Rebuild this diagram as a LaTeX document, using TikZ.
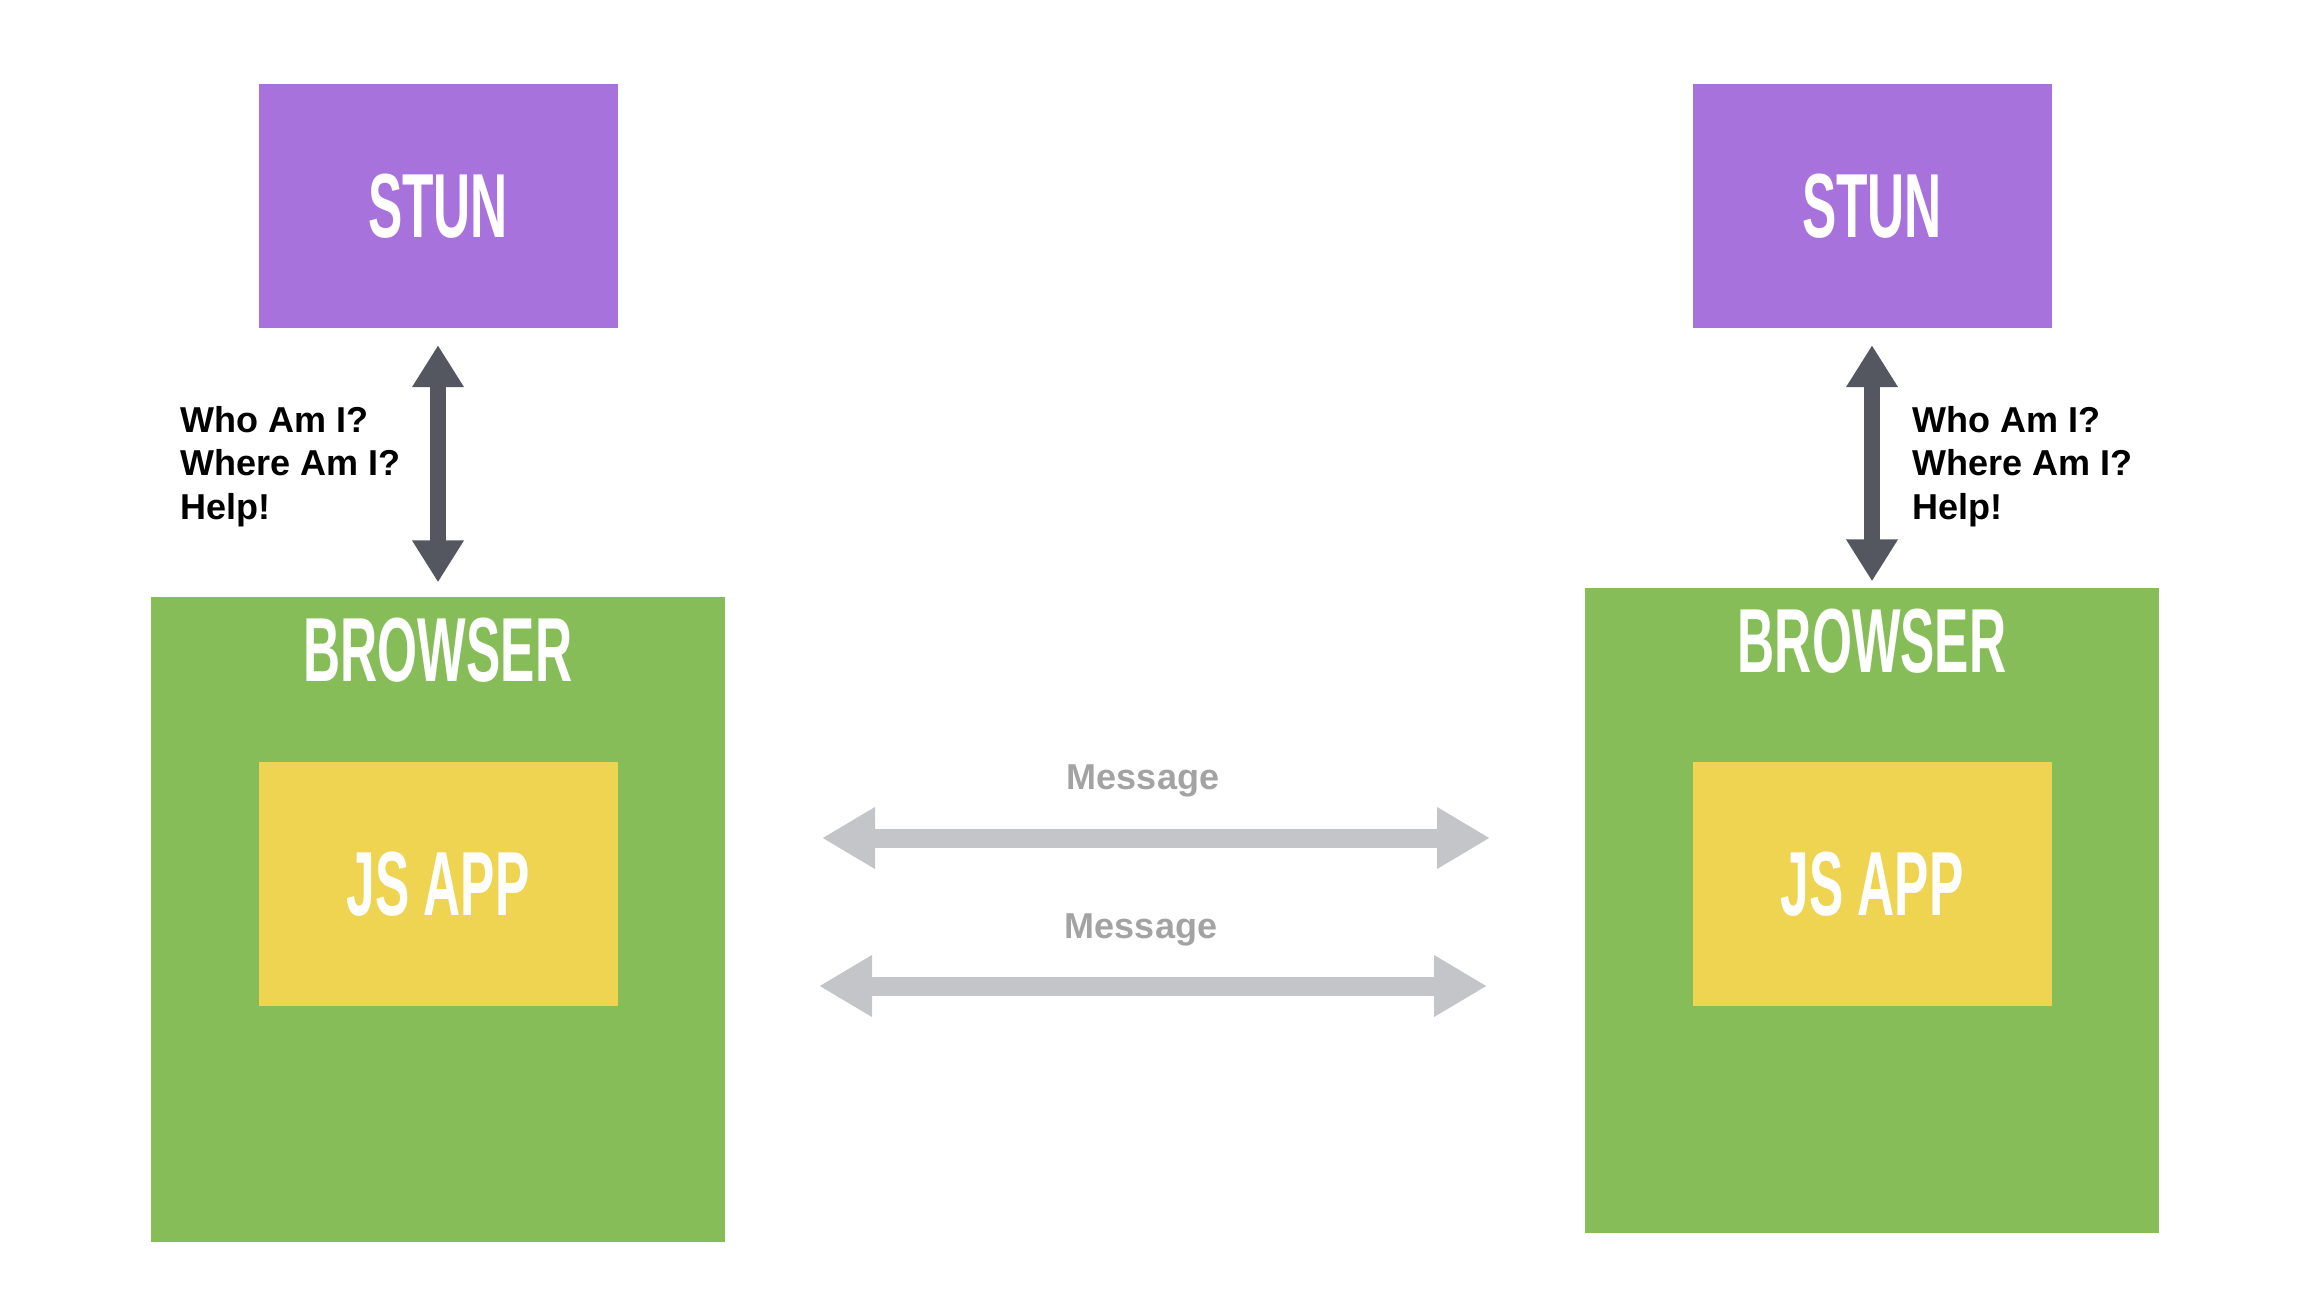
\documentclass[tikz,border=0pt]{standalone}
\usepackage{fontspec}
\setmainfont{Liberation Sans}
\newfontfamily\bebas{Liberation Sans Bold}[FakeStretch=0.565]
\usetikzlibrary{arrows.meta,positioning}

\definecolor{stunpurple}{HTML}{A872DC}
\definecolor{browsergreen}{HTML}{86BD58}
\definecolor{appyellow}{HTML}{EFD451}
\definecolor{askgrey}{HTML}{54575F}
\definecolor{msgline}{HTML}{C4C5C8}
\definecolor{msgtextgrey}{HTML}{A3A3A3}

\tikzset{
  stunbox/.style={fill=stunpurple, minimum width=359pt, minimum height=244pt,
    inner sep=0pt, text=white, font=\bebas\fontsize{91}{91}\selectfont},
  browserbox/.style={fill=browsergreen, minimum width=574pt, minimum height=645pt, inner sep=0pt},
  appbox/.style={fill=appyellow, minimum width=359pt, minimum height=244pt,
    inner sep=0pt, text=white, font=\bebas\fontsize{91}{91}\selectfont},
  boxtitle/.style={text=white, inner sep=0pt, anchor=base, font=\bebas\fontsize{91}{91}\selectfont},
  askarrow/.style={draw=askgrey, line width=16pt,
    {Triangle[length=42pt,width=49pt]}-{Triangle[length=42pt,width=49pt]}},
  msgarrow/.style={draw=msgline, line width=19pt,
    {Triangle[length=53pt,width=58pt]}-{Triangle[length=53pt,width=58pt]}},
  asktext/.style={font=\bfseries\fontsize{36}{43.5}\selectfont, align=left,
    inner sep=0pt, anchor=north west},
  msgtext/.style={text=msgtextgrey, font=\bfseries\fontsize{36}{36}\selectfont,
    inner sep=0pt, anchor=base},
}

\begin{document}
\begin{tikzpicture}[x=1pt,y=-1pt]
  \useasboundingbox (0,0) rectangle (2312,1300);
  % stun servers
  \node[stunbox] (stunL) at (438,206) {STUN};
  \node[stunbox] (stunR) at (1872,206) {STUN};
  % browsers with the app inside
  \node[browserbox] (browserL) at (438,919) {};
  \node[browserbox] (browserR) at (1872,910) {};
  \node[boxtitle] (titleL) at (438,681) {BROWSER};
  \node[boxtitle] (titleR) at (1872,672) {BROWSER};
  \node[appbox] (appL) at (438,884) {JS APP};
  \node[appbox] (appR) at (1872,884) {JS APP};
  % asking the stun server
  \draw[askarrow, shorten <=17pt, shorten >=14pt] (stunL.south) -- (stunL.south |- browserL.north);
  \draw[askarrow, shorten <=17pt, shorten >=6pt] (stunR.south) -- (stunR.south |- browserR.north);
  \node[asktext] (askL) at (180,406) {Who Am I?\\Where Am I?\\Help!};
  \node[asktext] (askR) at (1912,406) {Who Am I?\\Where Am I?\\Help!};
  % messages between the apps
  \coordinate (msgAL) at (822,838);
  \coordinate (msgAR) at (1490,838);
  \coordinate (msgBL) at (819,986);
  \coordinate (msgBR) at (1487,986);
  \draw[msgarrow] (msgAL) -- (msgAR);
  \draw[msgarrow] (msgBL) -- (msgBR);
  \node[msgtext] (msgA) at (1143,789) {Message};
  \node[msgtext] (msgB) at (1141,938) {Message};
\end{tikzpicture}
\end{document}
